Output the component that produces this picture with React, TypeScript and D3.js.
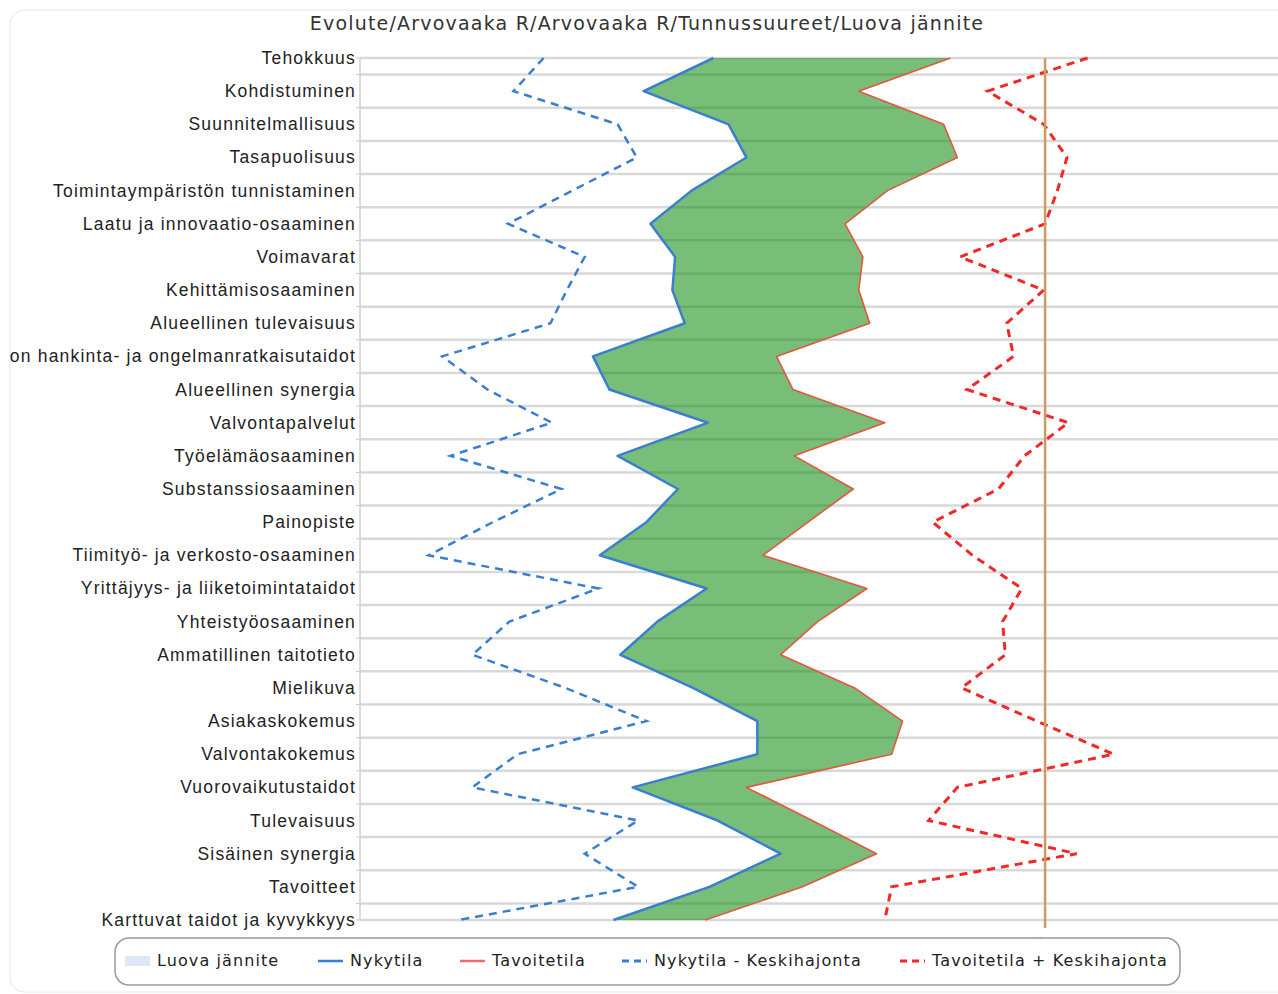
import React from 'react'
import * as d3 from 'd3'

const categories = [
  'Tehokkuus',
  'Kohdistuminen',
  'Suunnitelmallisuus',
  'Tasapuolisuus',
  'Toimintaympäristön tunnistaminen',
  'Laatu ja innovaatio-osaaminen',
  'Voimavarat',
  'Kehittämisosaaminen',
  'Alueellinen tulevaisuus',
  'on hankinta- ja ongelmanratkaisutaidot',
  'Alueellinen synergia',
  'Valvontapalvelut',
  'Työelämäosaaminen',
  'Substanssiosaaminen',
  'Painopiste',
  'Tiimityö- ja verkosto-osaaminen',
  'Yrittäjyys- ja liiketoimintataidot',
  'Yhteistyöosaaminen',
  'Ammatillinen taitotieto',
  'Mielikuva',
  'Asiakaskokemus',
  'Valvontakokemus',
  'Vuorovaikutustaidot',
  'Tulevaisuus',
  'Sisäinen synergia',
  'Tavoitteet',
  'Karttuvat taidot ja kyvykkyys',
]

// Nykytila (current state)
const nykytila = [
  2.58, 2.07, 2.69, 2.82, 2.42, 2.12, 2.3, 2.28, 2.37, 1.7, 1.82, 2.54, 1.88, 2.32,
  2.09, 1.75, 2.53, 2.17, 1.9, 2.43, 2.9, 2.9, 1.99, 2.61, 3.07, 2.55, 1.85,
]

// Tavoitetila (target state)
const tavoitetila = [
  4.31, 3.64, 4.26, 4.36, 3.85, 3.54, 3.67, 3.64, 3.72, 3.04, 3.16, 3.83, 3.17, 3.6,
  3.27, 2.94, 3.7, 3.34, 3.07, 3.61, 3.96, 3.88, 2.82, 3.3, 3.77, 3.23, 2.52,
]

// Nykytila - Keskihajonta
const nykyMinusSd = [
  1.34, 1.12, 1.88, 2.02, 1.55, 1.08, 1.64, 1.51, 1.39, 0.6, 0.93, 1.4, 0.66, 1.47,
  0.97, 0.5, 1.74, 1.09, 0.82, 1.5, 2.09, 1.15, 0.82, 2.03, 1.64, 2.03, 0.72,
]

// Tavoitetila + Keskihajonta
const tavoitePlusSd = [
  5.31, 4.58, 4.99, 5.16, 5.09, 5.0, 4.38, 4.99, 4.72, 4.77, 4.43, 5.17, 4.85, 4.66,
  4.18, 4.47, 4.83, 4.69, 4.71, 4.39, 4.94, 5.5, 4.36, 4.15, 5.23, 3.88, 3.83,
]

const maxValue = 5
const xDomain = [0, 6.7]

const legendItems = [
  { label: 'Luova jännite', kind: 'area', x: 125 },
  { label: 'Nykytila', kind: 'blue', x: 318 },
  { label: 'Tavoitetila', kind: 'red', x: 460 },
  { label: 'Nykytila - Keskihajonta', kind: 'blueDash', x: 622 },
  { label: 'Tavoitetila + Keskihajonta', kind: 'redDash', x: 900 },
]

const BLUE = '#3a7fcf'
const RED = '#e0583f'
const RED_DASH = '#f02828'
const MAX_COL = '#cf9a60'

export default function App() {
  const width = 1278
  const height = 994
  const left = 360
  const right = 1278
  const top = 58
  const bottom = 920

  const y = d3.scalePoint<string>().domain(categories).range([top, bottom])
  const x = d3.scaleLinear().domain(xDomain).range([left, right])

  const step = y.step()
  const gridYs = [top, ...categories.slice(0, -1).map(c => (y(c) as number) + step / 2), bottom]

  const line = d3
    .line<number>()
    .x(d => x(d))
    .y((_, i) => y(categories[i]) as number)

  const area = d3
    .area<number>()
    .y((_, i) => y(categories[i]) as number)
    .x0(d => x(d))
    .x1((_, i) => x(tavoitetila[i]))

  const legendFont = '"DejaVu Sans", Verdana, sans-serif'

  return (
    <svg
      width={width}
      height={height}
      style={{ position: 'absolute', left: 0, top: 0, background: '#fff' }}
    >
      <rect x={10} y={10} width={1290} height={982} rx={14} fill="#fff" stroke="#e3e6ea" />
      <text
        x={647}
        y={30}
        textAnchor="middle"
        fontFamily={legendFont}
        fontSize={19}
        letterSpacing={1.2}
        fill="#333"
      >
        Evolute/Arvovaaka R/Arvovaaka R/Tunnussuureet/Luova jännite
      </text>

      {/* grid */}
      {gridYs.map((gy, i) => (
        <g key={i}>
          <line x1={left} x2={right} y1={gy} y2={gy} stroke="#d9d9d9" strokeWidth={2.5} />
          <line x1={left - 4} x2={left} y1={gy} y2={gy} stroke="#c8c8c8" strokeWidth={1} />
        </g>
      ))}
      <line x1={left} x2={left} y1={top} y2={bottom} stroke="#d0d0d0" strokeWidth={1.5} />

      {/* category labels */}
      {categories.map(c => (
        <text
          key={c}
          x={356}
          y={(y(c) as number) + 6}
          textAnchor="end"
          fontFamily='"Liberation Sans", Arial, sans-serif'
          fontSize={17.5}
          letterSpacing={1.2}
          fill="#222"
        >
          {c}
        </text>
      ))}

      {/* Luova jännite area */}
      <path d={area(nykytila) || ''} fill="rgb(10,137,10)" fillOpacity={0.55} />

      <path d={line(nykytila) || ''} fill="none" stroke={BLUE} strokeWidth={2.5} strokeLinejoin="round" />
      <path d={line(tavoitetila) || ''} fill="none" stroke={RED} strokeWidth={1.6} strokeLinejoin="round" />
      <path
        d={line(nykyMinusSd) || ''}
        fill="none"
        stroke={BLUE}
        strokeWidth={2.5}
        strokeDasharray="8 6"
      />
      <path
        d={line(tavoitePlusSd) || ''}
        fill="none"
        stroke={RED_DASH}
        strokeWidth={3}
        strokeDasharray="8 6"
      />

      {/* Max line */}
      <line x1={x(maxValue)} x2={x(maxValue)} y1={top} y2={928} stroke={MAX_COL} strokeWidth={2.5} />
      <text
        x={x(maxValue)}
        y={946}
        textAnchor="middle"
        fontFamily={legendFont}
        fontSize={13}
        fill={MAX_COL}
      >
        Max
      </text>

      {/* legend */}
      <rect x={115} y={938} width={1065} height={47} rx={14} fill="#fff" stroke="#9a9a9a" strokeWidth={1.5} />
      {legendItems.map(item => {
        const cy = 961
        let swatch: React.ReactNode = null
        if (item.kind === 'area') {
          swatch = <rect x={item.x} y={cy - 5} width={25} height={10} fill="#dde8f5" />
        } else {
          const dashed = item.kind.endsWith('Dash')
          const col = item.kind.startsWith('blue') ? BLUE : item.kind === 'red' ? '#ef6b6b' : RED_DASH
          swatch = (
            <line
              x1={item.x}
              x2={item.x + 25}
              y1={cy}
              y2={cy}
              stroke={col}
              strokeWidth={dashed ? 3 : 2.5}
              strokeDasharray={dashed ? '7 5' : undefined}
            />
          )
        }
        return (
          <g key={item.label}>
            {swatch}
            <text
              x={item.x + 32}
              y={cy + 5}
              fontFamily={legendFont}
              fontSize={16}
              letterSpacing={1.1}
              fill="#222"
            >
              {item.label}
            </text>
          </g>
        )
      })}
    </svg>
  )
}
